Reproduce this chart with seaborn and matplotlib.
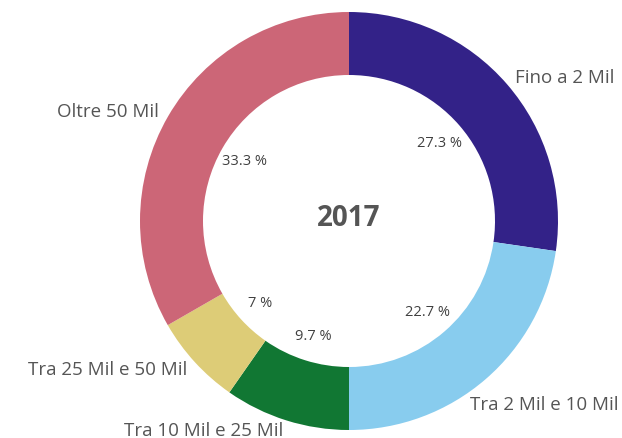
import math
import matplotlib
matplotlib.use("Agg")
import matplotlib.pyplot as plt
import seaborn as sns

categories = ["Fino a 2 Mil", "Tra 2 Mil e 10 Mil", "Tra 10 Mil e 25 Mil",
              "Tra 25 Mil e 50 Mil", "Oltre 50 Mil"]
values = [27.3, 22.7, 9.7, 7.0, 33.3]
pct_labels = ["27.3 %", "22.7 %", "9.7 %", "7 %", "33.3 %"]
year_label = "2017"
colors = ["#332288", "#88CCEE", "#117733", "#DDCC77", "#CC6677"]

sns.set_theme(style="white")
plt.rcParams['font.family'] = ['Open Sans', 'DejaVu Sans']

fig = plt.figure(figsize=(6.22, 4.39), dpi=100)
ax = fig.add_axes([0, 0, 1, 1])

cx, cy, R = 349, 217, 209
ldist = 1.05
palette = sns.color_palette(colors)
it = iter(pct_labels)
wedges, texts, autotexts = ax.pie(
    values, labels=categories, colors=palette, startangle=90, counterclock=False,
    center=(cx, cy), radius=R, frame=True,
    wedgeprops=dict(width=63, linewidth=0),
    labeldistance=ldist, pctdistance=0.575,
    autopct=lambda p: next(it),
    textprops=dict(color="#555555", fontsize=13.5),
)
for t in texts:
    x, y = t.get_position()
    t.set_horizontalalignment("left" if x > cx else "right")
    t.set_verticalalignment("center")
for t in autotexts:
    t.set_color("#404040")
    t.set_fontsize(10.5)
ax.set_xlim(0, 622)
ax.set_ylim(0, 439)
ax.set_aspect("equal")
ax.axis("off")
ax.text(cx, cy + 4, year_label, ha="center", va="center", fontsize=20,
        fontweight="bold", color="#555555")

# slide labels that overflow the right edge inward along the label circle
fig.canvas.draw()
renderer = fig.canvas.get_renderer()
rl = R * ldist
for t in texts:
    bb = t.get_window_extent(renderer)
    if bb.x1 > 619:
        x, y = t.get_position()
        nx = x - (bb.x1 - 619)
        dy = math.sqrt(max(rl**2 - (nx - cx)**2, 0))
        ny = cy - dy if y < cy else cy + dy
        t.set_position((nx, ny))

fig.savefig("out.png", dpi=100)
